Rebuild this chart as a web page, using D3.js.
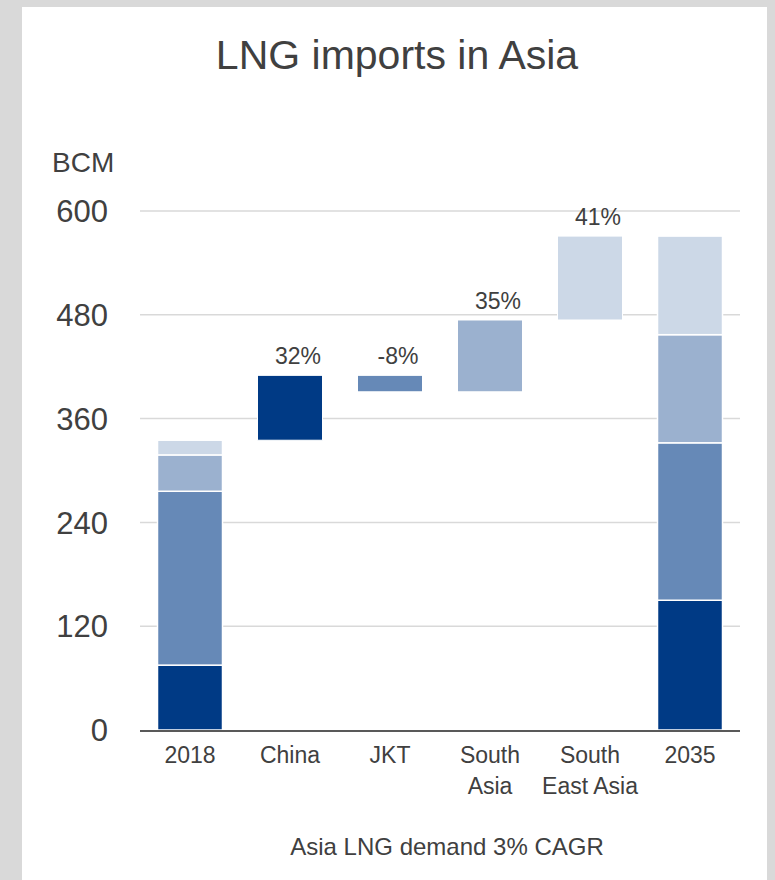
<!DOCTYPE html>
<html>
<head>
<meta charset="utf-8">
<script src="https://cdn.jsdelivr.net/npm/d3@7"></script>
<style>
  html, body { margin: 0; padding: 0; background: #d9d9d9; }
  svg { display: block; }
  text { font-family: "Liberation Sans", Arial, sans-serif; fill: #404040; }
</style>
</head>
<body>
<svg id="chart" width="775" height="880"></svg>
<script>
// Waterfall of Asian LNG imports, 2018 -> 2035 (BCM)
const categories = ["2018", "China", "JKT", "South Asia", "South East Asia", "2035"];
const categoryLines = [["2018"], ["China"], ["JKT"], ["South", "Asia"], ["South", "East Asia"], ["2035"]];
const regions = ["China", "JKT", "South Asia", "South East Asia"];
const imports2018 = [75, 201, 42, 17];
const changes = [75, -19, 83, 97];
const shareOfGrowth = ["32%", "-8%", "35%", "41%"];
const imports2035 = [150, 182, 125, 114];
const yTicks = [0, 120, 240, 360, 480, 600];
const regionColors = ["#003a85", "#6689b7", "#9bb1cf", "#ccd8e7"];

const svg = d3.select("#chart");

// white card
svg.append("rect").attr("x", 22).attr("y", 7).attr("width", 745).attr("height", 880).attr("fill", "#fff");

svg.append("text").attr("x", 397).attr("y", 69).attr("text-anchor", "middle")
  .style("font-size", "41px").text("LNG imports in Asia");

const x = d3.scaleBand().domain(categories).range([140, 740]).paddingInner(0.35).paddingOuter(0.175);
const y = d3.scaleLinear().domain([0, 600]).range([730, 211]);
const color = d3.scaleOrdinal().domain(regions).range(regionColors);

// gridlines
svg.append("g").selectAll("line").data(yTicks.filter(d => d > 0)).join("line")
  .attr("x1", 140).attr("x2", 740).attr("y1", d => y(d)).attr("y2", d => y(d))
  .attr("stroke", "#d9d9d9").attr("stroke-width", 1.5);

// y tick labels
svg.append("g").selectAll("text").data(yTicks).join("text")
  .attr("x", 108).attr("y", d => y(d)).attr("dy", "0.36em").attr("text-anchor", "end")
  .style("font-size", "31px").text(d => d);

svg.append("text").attr("x", 52).attr("y", 172).style("font-size", "28px").text("BCM");

// stacked totals
function stackSegments(vals) {
  let acc = 0;
  return vals.map((v, i) => { const s = { region: regions[i], y0: acc, y1: acc + v }; acc += v; return s; });
}
const stacks = [
  { cat: "2018", segs: stackSegments(imports2018) },
  { cat: "2035", segs: stackSegments(imports2035) }
];
stacks.forEach(st => {
  svg.append("g").selectAll("rect").data(st.segs).join("rect")
    .attr("x", x(st.cat)).attr("width", x.bandwidth())
    .attr("y", d => y(d.y1)).attr("height", d => y(d.y0) - y(d.y1))
    .attr("fill", d => color(d.region)).attr("stroke", "#fff").attr("stroke-width", 1.5);
});

// floating change bars
let running = d3.sum(imports2018);
const steps = regions.map((r, i) => {
  const s = { region: r, start: running, end: running + changes[i], label: shareOfGrowth[i] };
  running += changes[i];
  return s;
});
const g = svg.append("g");
g.selectAll("rect").data(steps).join("rect")
  .attr("x", d => x(d.region)).attr("width", x.bandwidth())
  .attr("y", d => y(Math.max(d.start, d.end)))
  .attr("height", d => Math.abs(y(d.start) - y(d.end)))
  .attr("fill", d => color(d.region)).attr("stroke", "#fff").attr("stroke-width", 1);
g.selectAll("text").data(steps).join("text")
  .attr("x", d => x(d.region) + x.bandwidth() / 2 + 8)
  .attr("y", d => y(Math.max(d.start, d.end)) - 11)
  .attr("text-anchor", "middle").style("font-size", "23px")
  .text(d => d.label);

// baseline
svg.append("line").attr("x1", 140).attr("x2", 740).attr("y1", y(0) + 1).attr("y2", y(0) + 1)
  .attr("stroke", "#595959").attr("stroke-width", 2);

// category labels
const cl = svg.append("g").selectAll("text").data(categories).join("text")
  .attr("x", d => x(d) + x.bandwidth() / 2).attr("y", 763).attr("text-anchor", "middle")
  .style("font-size", "23px");
cl.each(function(d, i) {
  d3.select(this).selectAll("tspan").data(categoryLines[i]).join("tspan")
    .attr("x", x(d) + x.bandwidth() / 2).attr("dy", (t, j) => j === 0 ? 0 : 31).text(t => t);
});

svg.append("text").attr("x", 447).attr("y", 855).attr("text-anchor", "middle")
  .style("font-size", "24px").text("Asia LNG demand 3% CAGR");
</script>
</body>
</html>
